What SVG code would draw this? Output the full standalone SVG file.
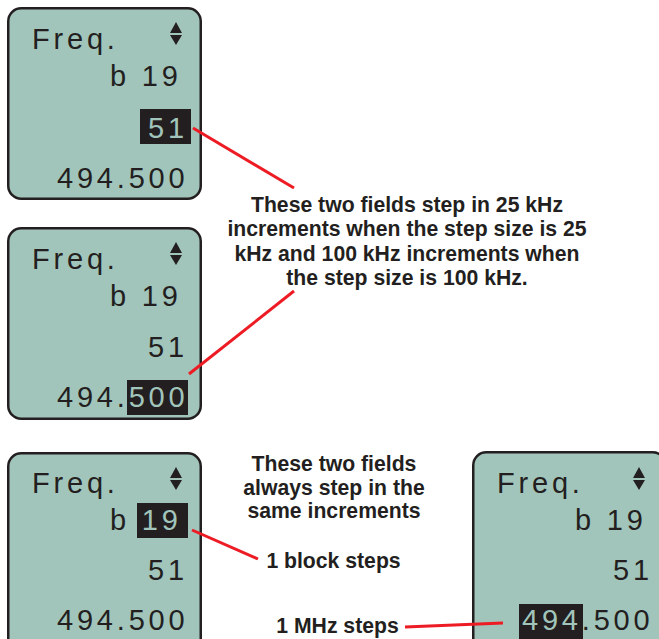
<svg xmlns="http://www.w3.org/2000/svg" width="659" height="639" viewBox="0 0 659 639">
<style>
.box{fill:#a2c5bb;stroke:#231f20;stroke-width:2.5}
.lcd{font-family:"Liberation Sans",Arial,sans-serif;font-size:29px;letter-spacing:3.8px;fill:#231f20}
.hl{fill:#a2c5bb}
.hlr{fill:#231f20}
.tri{fill:#231f20}
.note{font-family:"Liberation Sans",Arial,sans-serif;font-size:21.2px;font-weight:bold;fill:#231f20;text-anchor:middle}
.red{stroke:#ed1c24;stroke-width:3;fill:none;stroke-linecap:butt}
</style>
<rect width="659" height="639" fill="#ffffff"/>
<g id="display1">
<rect class="box" x="8.25" y="8.25" width="192.5" height="190.5" rx="13"/>
<polygon class="tri" points="170,33 182,33 176,22"/>
<polygon class="tri" points="170,35 182,35 176,45"/>
<text class="lcd" x="32" y="49">Freq.</text>
<text class="lcd" x="110" y="86">b 19</text>
<rect class="hlr" x="140" y="109" width="51" height="35"/>
<text class="lcd" x="148" y="137.5"><tspan class="hl">51</tspan></text>
<text class="lcd" x="57" y="188">494.500</text>
</g>
<g id="display2" transform="translate(0,220)">
<rect class="box" x="8.25" y="8.25" width="192.5" height="190.5" rx="13"/>
<polygon class="tri" points="170,33 182,33 176,22"/>
<polygon class="tri" points="170,35 182,35 176,45"/>
<text class="lcd" x="32" y="49">Freq.</text>
<text class="lcd" x="110" y="86">b 19</text>
<text class="lcd" x="148" y="137">51</text>
<rect class="hlr" x="127" y="160" width="61" height="35"/>
<text class="lcd" x="57" y="187">494.<tspan class="hl">500</tspan></text>
</g>
<g id="display3" transform="translate(0,445)">
<rect class="box" x="8.25" y="8.25" width="192.5" height="220" rx="13"/>
<polygon class="tri" points="170,33 182,33 176,22"/>
<polygon class="tri" points="170,35 182,35 176,45"/>
<text class="lcd" x="32" y="48">Freq.</text>
<rect class="hlr" x="137" y="58" width="51" height="35"/>
<text class="lcd" x="110" y="85">b <tspan class="hl">19</tspan></text>
<text class="lcd" x="148" y="135">51</text>
<text class="lcd" x="57" y="185">494.500</text>
</g>
<g id="display4" transform="translate(465,444)">
<rect class="box" x="8.25" y="8.25" width="192.5" height="220" rx="13"/>
<polygon class="tri" points="168,34 180,34 174,23"/>
<polygon class="tri" points="168,36 180,36 174,46"/>
<text class="lcd" x="32" y="49">Freq.</text>
<text class="lcd" x="110" y="86">b 19</text>
<text class="lcd" x="148" y="136">51</text>
<rect class="hlr" x="54" y="160" width="64" height="36"/>
<text class="lcd" x="57" y="186"><tspan class="hl">494</tspan>.500</text>
</g>
<g id="connectors">
<line class="red" x1="193" y1="128" x2="294" y2="188"/>
<line class="red" x1="189" y1="374" x2="294" y2="291"/>
<line class="red" x1="192" y1="530" x2="258" y2="559"/>
<line class="red" x1="405" y1="627" x2="503" y2="623"/>
</g>
<g id="note1">
<text class="note" x="407" y="212">These two fields step in 25 kHz</text>
<text class="note" x="407" y="236.3">increments when the step size is 25</text>
<text class="note" x="407" y="260.6">kHz and 100 kHz increments when</text>
<text class="note" x="407" y="284.9">the step size is 100 kHz.</text>
</g>
<g id="note2">
<text class="note" x="334" y="471">These two fields</text>
<text class="note" x="334" y="494.5">always step in the</text>
<text class="note" x="334" y="518">same increments</text>
</g>
<g id="label-block">
<text class="note" x="333.5" y="568">1 block steps</text>
</g>
<g id="label-mhz">
<text class="note" x="337.5" y="633">1 MHz steps</text>
</g>
</svg>
